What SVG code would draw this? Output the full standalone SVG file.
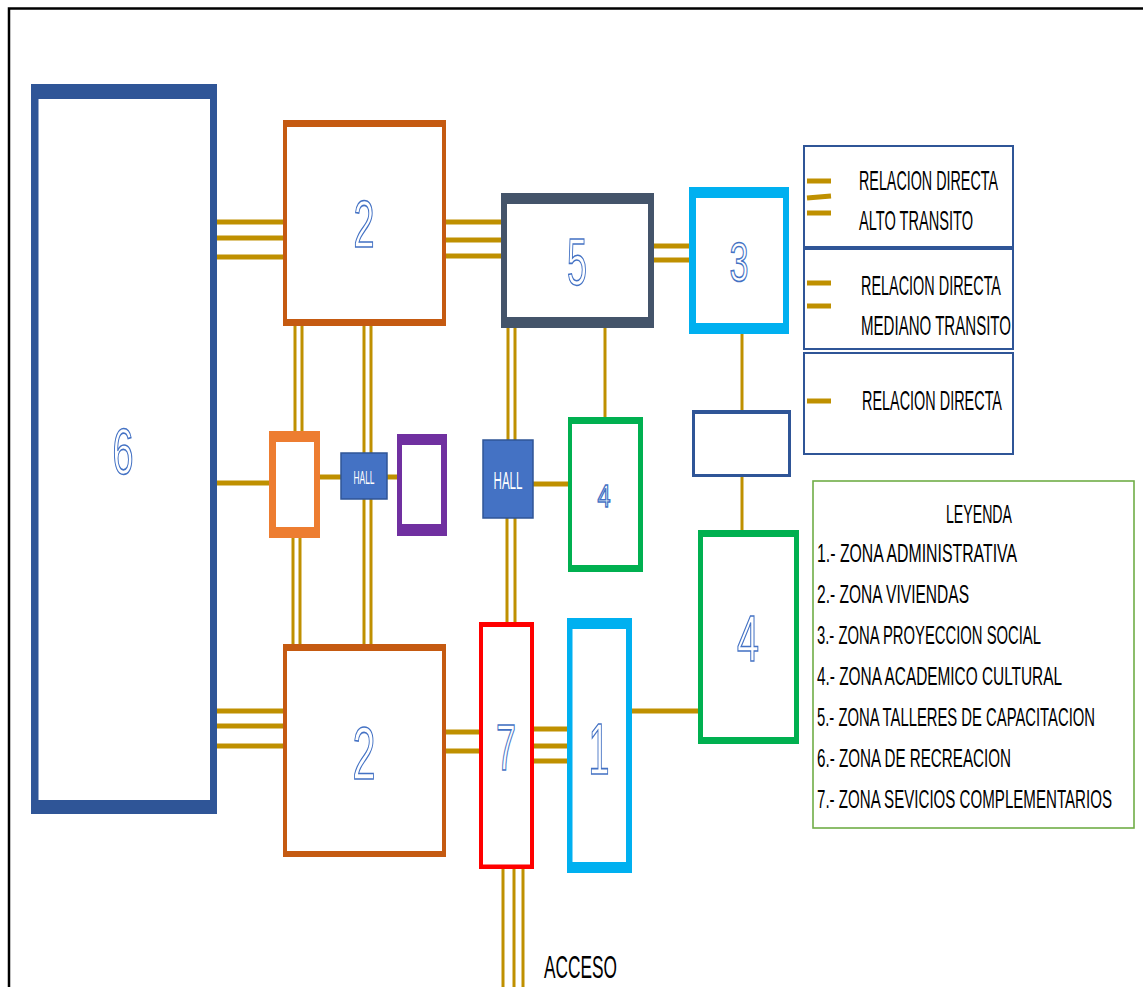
<svg xmlns="http://www.w3.org/2000/svg" width="1143" height="987" viewBox="0 0 1143 987">
<style>
.bg{fill:#ffffff}
.frame{fill-rule:evenodd}
.c6{fill:#2F5597}
.c2{fill:#C55A11}
.c5{fill:#44546A}
.c3{fill:#00B0F0}
.cb{fill:#2F5597}
.cg{fill:#00B050}
.cr{fill:#FF0000}
.co{fill:#ED7D31}
.cp{fill:#7030A0}
.hall{fill:#4472C4;stroke:#2F5597;stroke-width:1.5}
.hallt{font-family:"Liberation Sans",Arial,sans-serif;fill:#ffffff;text-anchor:middle}
.num{font-family:"Liberation Sans",Arial,sans-serif;fill:#ffffff;stroke:#4472C4;stroke-width:1.6;text-anchor:middle}
.lbl{font-family:"Liberation Sans",Arial,sans-serif;fill:#000000}
.rt{font-size:15px}
.lt{font-size:15.5px}
.rel{fill:#ffffff;stroke:#2F5597;stroke-width:2}
.leg{fill:#ffffff;stroke:#70AD47;stroke-width:1.6}
.thick{stroke:#BF9000;stroke-width:5;fill:none}
.thin{stroke:#BF9000;stroke-width:3;fill:none}
</style>
<rect class="bg" x="0" y="0" width="1143" height="987"/>
<path d="M9,987 V8.5 H1143" fill="none" stroke="#000" stroke-width="2.5"/>

<g id="connectors">
  <path class="thick" d="M214,222 H285 M214,238 H285 M214,257 H285"/>
  <path class="thick" d="M444,222 H504 M444,240 H504 M444,256 H504"/>
  <path class="thick" d="M650,246 H692 M650,260 H692"/>
  <path class="thick" d="M214,483 H271"/>
  <path class="thick" d="M318,477 H342"/>
  <path class="thick" d="M386,477 H400"/>
  <path class="thick" d="M532,484 H570"/>
  <path class="thick" d="M214,711 H285 M214,726 H285 M214,746 H285"/>
  <path class="thick" d="M444,732 H481 M444,751 H481"/>
  <path class="thick" d="M532,729 H569 M532,746 H569 M532,761 H569"/>
  <path class="thick" d="M630,711 H700"/>
  <path class="thin" d="M295,322 V432 M302,322 V432"/>
  <path class="thin" d="M364,322 V647 M371,322 V647"/>
  <path class="thin" d="M293,536 V647 M300,536 V647"/>
  <path class="thin" d="M508,326 V441 M515,326 V441"/>
  <path class="thin" d="M507,517 V623 M515,517 V623"/>
  <path class="thin" d="M605,326 V419"/>
  <path class="thin" d="M742,332 V411"/>
  <path class="thin" d="M742,476 V532"/>
  <path class="thin" d="M503,868 V987 M514,868 V987 M523,868 V987"/>
</g>

<g id="node-6">
  <path class="frame c6" d="M31,84 H217 V814 H31 Z M38.5,99 V800 H210 V99 Z"/>
  <text class="num" x="123" y="474" font-size="64" textLength="21" lengthAdjust="spacingAndGlyphs">6</text>
</g>
<g id="node-2-top">
  <path class="frame c2" d="M283,120 H446 V326 H283 Z M287,127 V319 H442 V127 Z"/>
  <text class="num" x="364" y="247" font-size="66" textLength="21" lengthAdjust="spacingAndGlyphs">2</text>
</g>
<g id="node-5">
  <path class="frame c5" d="M501,193 H654 V328 H501 Z M507,204 V317 H648 V204 Z"/>
  <text class="num" x="577" y="285" font-size="66" textLength="20" lengthAdjust="spacingAndGlyphs">5</text>
</g>
<g id="node-3">
  <path class="frame c3" d="M689,187 H789 V334 H689 Z M696,198 V323 H783 V198 Z"/>
  <text class="num" x="739" y="281" font-size="56" textLength="19" lengthAdjust="spacingAndGlyphs">3</text>
</g>
<g id="node-blank">
  <path class="frame cb" d="M692,410 H791 V477 H692 Z M695,414 V474 H788 V414 Z"/>
</g>
<g id="node-4-mid">
  <path class="frame cg" d="M568,417 H643 V572 H568 Z M572,424 V565 H638 V424 Z"/>
  <text class="num" x="604" y="507" font-size="31" textLength="13" lengthAdjust="spacingAndGlyphs" stroke-width="1.2">4</text>
</g>
<g id="node-4-big">
  <path class="frame cg" d="M698,530 H799 V744 H698 Z M703,537 V737 H794 V537 Z"/>
  <text class="num" x="748" y="661" font-size="64" textLength="22" lengthAdjust="spacingAndGlyphs">4</text>
</g>
<g id="node-1">
  <path class="frame c3" d="M567,618 H632 V873 H567 Z M572.5,629 V862 H626 V629 Z"/>
  <text class="num" x="599" y="774" font-size="72" textLength="21" lengthAdjust="spacingAndGlyphs">1</text>
</g>
<g id="node-7">
  <path class="frame cr" d="M479,622 H534 V869 H479 Z M483,627 V864.5 H530 V627 Z"/>
  <text class="num" x="506" y="770" font-size="64" textLength="20" lengthAdjust="spacingAndGlyphs">7</text>
</g>
<g id="node-2-bottom">
  <path class="frame c2" d="M283,644 H446 V857 H283 Z M287,651 V851 H442 V651 Z"/>
  <text class="num" x="364" y="779" font-size="75" textLength="23" lengthAdjust="spacingAndGlyphs">2</text>
</g>
<g id="node-orange">
  <path class="frame co" d="M269,431 H320 V538 H269 Z M276,442 V527 H314 V442 Z"/>
</g>
<g id="node-purple">
  <path class="frame cp" d="M397,434 H447 V536 H397 Z M402,445 V524 H441 V445 Z"/>
</g>
<g id="hall-1">
  <rect class="hall" x="341" y="453" width="46" height="46"/>
  <text class="hallt" transform="translate(364,483.5) scale(1,2.09)" x="0" y="0" font-size="9" textLength="21" lengthAdjust="spacingAndGlyphs">HALL</text>
</g>
<g id="hall-2">
  <rect class="hall" x="483" y="440" width="50" height="78"/>
  <text class="hallt" transform="translate(508,489) scale(1,1.98)" x="0" y="0" font-size="12" textLength="29" lengthAdjust="spacingAndGlyphs">HALL</text>
</g>

<g id="rel-alto">
  <rect class="rel" x="804" y="146" width="209" height="101"/>
  <path class="thick" d="M807,181 H831 M807,198 L831,196 M807,213 H831"/>
  <text class="lbl rt" transform="translate(859,190) scale(1,1.85)" x="0" y="0" textLength="139" lengthAdjust="spacingAndGlyphs">RELACION DIRECTA</text>
  <text class="lbl rt" transform="translate(859,230) scale(1,1.85)" x="0" y="0" textLength="114" lengthAdjust="spacingAndGlyphs">ALTO TRANSITO</text>
</g>
<g id="rel-mediano">
  <rect class="rel" x="804" y="249" width="209" height="100"/>
  <path class="thick" d="M807,283 H831 M807,306 H831"/>
  <text class="lbl rt" transform="translate(861,295) scale(1,1.85)" x="0" y="0" textLength="140" lengthAdjust="spacingAndGlyphs">RELACION DIRECTA</text>
  <text class="lbl rt" transform="translate(861,335) scale(1,1.85)" x="0" y="0" textLength="150" lengthAdjust="spacingAndGlyphs">MEDIANO TRANSITO</text>
</g>
<g id="rel-directa">
  <rect class="rel" x="804" y="353" width="209" height="101"/>
  <path class="thick" d="M807,401 H831"/>
  <text class="lbl rt" transform="translate(862,410) scale(1,1.85)" x="0" y="0" textLength="140" lengthAdjust="spacingAndGlyphs">RELACION DIRECTA</text>
</g>

<g id="legend">
  <rect class="leg" x="813" y="481" width="321" height="347"/>
  <text class="lbl lt" transform="translate(979,523) scale(1,1.71)" x="0" y="0" text-anchor="middle" textLength="66" lengthAdjust="spacingAndGlyphs">LEYENDA</text>
  <text class="lbl lt" transform="translate(817,562) scale(1,1.71)" x="0" y="0" textLength="200" lengthAdjust="spacingAndGlyphs">1.- ZONA ADMINISTRATIVA</text>
  <text class="lbl lt" transform="translate(817,603) scale(1,1.71)" x="0" y="0" textLength="152" lengthAdjust="spacingAndGlyphs">2.- ZONA VIVIENDAS</text>
  <text class="lbl lt" transform="translate(817,644) scale(1,1.71)" x="0" y="0" textLength="224" lengthAdjust="spacingAndGlyphs">3.- ZONA PROYECCION SOCIAL</text>
  <text class="lbl lt" transform="translate(817,685) scale(1,1.71)" x="0" y="0" textLength="245" lengthAdjust="spacingAndGlyphs">4.- ZONA ACADEMICO CULTURAL</text>
  <text class="lbl lt" transform="translate(817,726) scale(1,1.71)" x="0" y="0" textLength="278" lengthAdjust="spacingAndGlyphs">5.- ZONA TALLERES DE CAPACITACION</text>
  <text class="lbl lt" transform="translate(817,767) scale(1,1.71)" x="0" y="0" textLength="194" lengthAdjust="spacingAndGlyphs">6.- ZONA DE RECREACION</text>
  <text class="lbl lt" transform="translate(817,808) scale(1,1.71)" x="0" y="0" textLength="295" lengthAdjust="spacingAndGlyphs">7.- ZONA SEVICIOS COMPLEMENTARIOS</text>
</g>

<g id="acceso">
  <text class="lbl" transform="translate(544,978) scale(1,1.84)" x="0" y="0" font-size="17.5" textLength="73" lengthAdjust="spacingAndGlyphs">ACCESO</text>
</g>
</svg>
